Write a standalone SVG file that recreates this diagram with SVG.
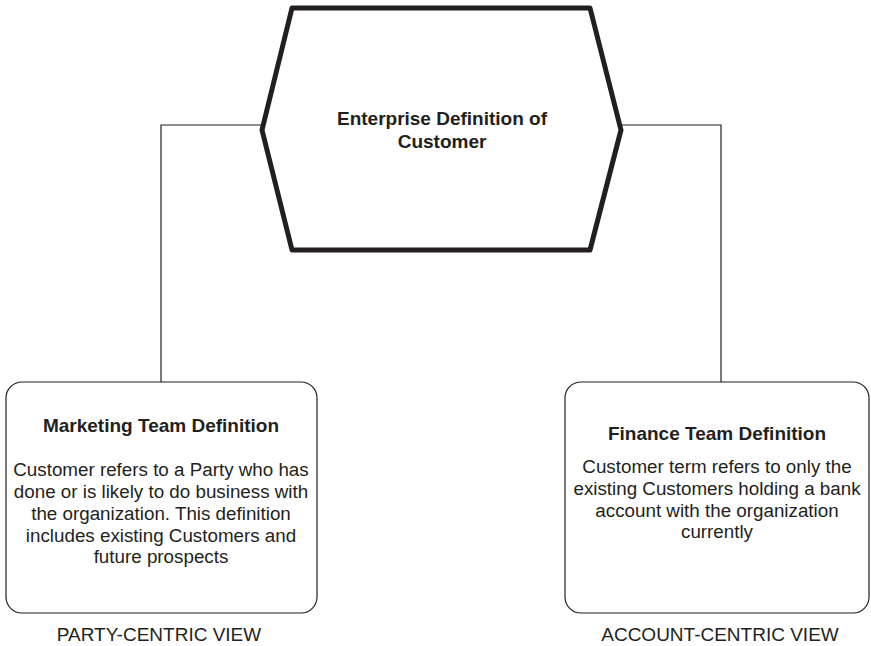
<svg xmlns="http://www.w3.org/2000/svg" width="871" height="646" viewBox="0 0 871 646">
<style>
text{font-family:"Liberation Sans",Arial,sans-serif;fill:#231f20;text-anchor:middle}
.b{font-weight:bold;font-size:19px}
.t{font-size:18.8px}
.l{font-size:19px}
.box{fill:#fff;stroke:#231f20;stroke-width:1.2}
.conn{fill:none;stroke:#231f20;stroke-width:1.2}
</style>
<rect width="871" height="646" fill="#fff"/>
<g id="connectors">
<polyline class="conn" points="262,125 161,125 161,382"/>
<polyline class="conn" points="620,125 721,125 721,382"/>
</g>
<g id="enterprise">
<polygon points="292,8 590,8 621,130 590,250 292,250 262,130" fill="#fff" stroke="#231f20" stroke-width="5" stroke-linejoin="round"/>
<text class="b" x="442" y="125">Enterprise Definition of</text>
<text class="b" x="442" y="148">Customer</text>
</g>
<g id="marketing">
<rect class="box" x="6" y="382" width="311" height="231" rx="16"/>
<text class="b" x="161" y="432">Marketing Team Definition</text>
<text class="t" x="161" y="476">Customer refers to a Party who has</text>
<text class="t" x="161" y="498">done or is likely to do business with</text>
<text class="t" x="161" y="520">the organization. This definition</text>
<text class="t" x="161" y="542">includes existing Customers and</text>
<text class="t" x="161" y="563">future prospects</text>
</g>
<g id="finance">
<rect class="box" x="565" y="382" width="304" height="231" rx="16"/>
<text class="b" x="717" y="440">Finance Team Definition</text>
<text class="t" x="717" y="473">Customer term refers to only the</text>
<text class="t" x="717" y="495">existing Customers holding a bank</text>
<text class="t" x="717" y="517">account with the organization</text>
<text class="t" x="717" y="538">currently</text>
</g>
<g id="party-label"><text class="l" x="159" y="641">PARTY-CENTRIC VIEW</text></g>
<g id="account-label"><text class="l" x="720" y="641">ACCOUNT-CENTRIC VIEW</text></g>
</svg>
